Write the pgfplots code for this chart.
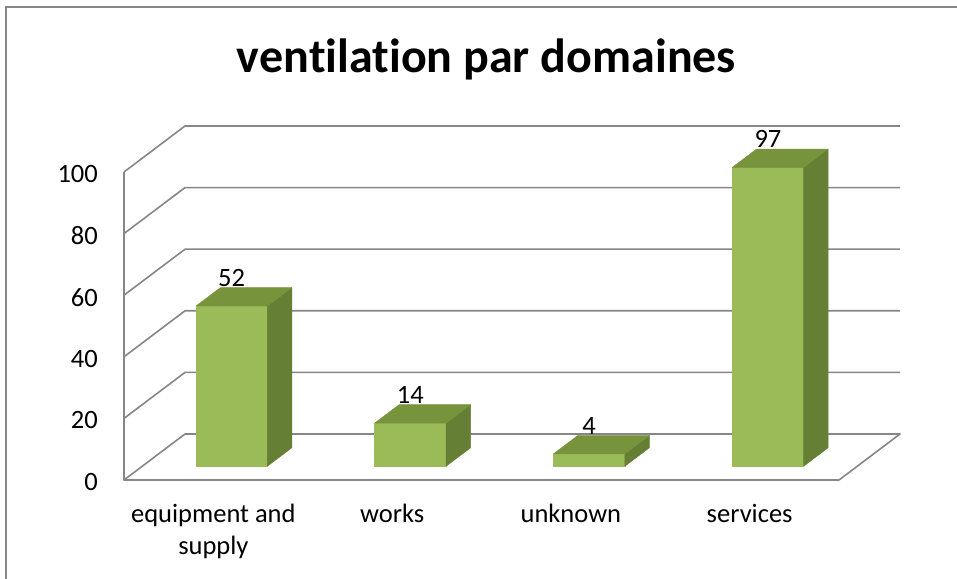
\documentclass[border=0pt]{standalone}
\usepackage{fontspec}
\setmainfont{Carlito}[RawFeature={-liga;-clig;-dlig;-calt}]
\usepackage{pgfplots}
\pgfplotsset{compat=1.18}
\usetikzlibrary{calc}
\definecolor{gridc}{RGB}{134,134,134}
\definecolor{front}{RGB}{155,187,89}
\definecolor{topc}{RGB}{119,147,60}
\definecolor{side}{RGB}{101,127,52}
\newcommand\lab{\fontsize{26.5}{32.6}\selectfont}
\begin{document}
\begin{tikzpicture}
\begin{axis}[
  x={(178.75pt,0pt)}, y={(61pt,46pt)}, z={(0pt,3.08pt)},
  xmin=0, xmax=4, ymin=0, ymax=1, zmin=0, zmax=100,
  hide axis, clip=false,
  every axis plot/.append style={line join=round},
  fr/.style={fill=front, draw=front, line width=0.4pt},
  sd/.style={fill=side, draw=side, line width=0.4pt},
  tp/.style={fill=topc, draw=topc, line width=0.4pt},
]
% floor
\addplot3[draw=gridc, line width=1.6pt, fill=none] coordinates {(0,0,0) (4,0,0) (4,1,0) (0,1,0)} -- cycle;
% left wall edge
\addplot3[draw=gridc, line width=1.6pt] coordinates {(0,0,0) (0,0,100)};
% gridlines (left wall + back wall)
\addplot3[draw=gridc, line width=1.6pt] coordinates {(0,0,20) (0,1,20) (4,1,20)};
\addplot3[draw=gridc, line width=1.6pt] coordinates {(0,0,40) (0,1,40) (4,1,40)};
\addplot3[draw=gridc, line width=1.6pt] coordinates {(0,0,60) (0,1,60) (4,1,60)};
\addplot3[draw=gridc, line width=1.6pt] coordinates {(0,0,80) (0,1,80) (4,1,80)};
\addplot3[draw=gridc, line width=1.6pt] coordinates {(0,0,100) (0,1,100) (4,1,100)};
% bar 1: equipment and supply = 52
\addplot3[fr] coordinates {(0.3,0.3,0) (0.7,0.3,0) (0.7,0.3,52) (0.3,0.3,52)} -- cycle;
\addplot3[sd] coordinates {(0.7,0.3,0) (0.7,0.7,0) (0.7,0.7,52) (0.7,0.3,52)} -- cycle;
\addplot3[tp] coordinates {(0.3,0.3,52) (0.7,0.3,52) (0.7,0.7,52) (0.3,0.7,52)} -- cycle;
% bar 2: works = 14
\addplot3[fr] coordinates {(1.3,0.3,0) (1.7,0.3,0) (1.7,0.3,14) (1.3,0.3,14)} -- cycle;
\addplot3[sd] coordinates {(1.7,0.3,0) (1.7,0.7,0) (1.7,0.7,14) (1.7,0.3,14)} -- cycle;
\addplot3[tp] coordinates {(1.3,0.3,14) (1.7,0.3,14) (1.7,0.7,14) (1.3,0.7,14)} -- cycle;
% bar 3: unknown = 4
\addplot3[fr] coordinates {(2.3,0.3,0) (2.7,0.3,0) (2.7,0.3,4) (2.3,0.3,4)} -- cycle;
\addplot3[sd] coordinates {(2.7,0.3,0) (2.7,0.7,0) (2.7,0.7,4) (2.7,0.3,4)} -- cycle;
\addplot3[tp] coordinates {(2.3,0.3,4) (2.7,0.3,4) (2.7,0.7,4) (2.3,0.7,4)} -- cycle;
% bar 4: services = 97
\addplot3[fr] coordinates {(3.3,0.3,0) (3.7,0.3,0) (3.7,0.3,97) (3.3,0.3,97)} -- cycle;
\addplot3[sd] coordinates {(3.7,0.3,0) (3.7,0.7,0) (3.7,0.7,97) (3.7,0.3,97)} -- cycle;
\addplot3[tp] coordinates {(3.3,0.3,97) (3.7,0.3,97) (3.7,0.7,97) (3.3,0.7,97)} -- cycle;
% tick labels
\foreach \v in {0,20,40,60,80,100}{
  \edef\tmp{\noexpand\node[anchor=east, font=\noexpand\lab, inner sep=0pt, xshift=-26pt, yshift=-2pt] at (axis cs:0,0,\v) {\v};}\tmp
}
% data labels
\node[anchor=base, font=\lab, inner sep=0pt, yshift=19.5pt] at (axis cs:0.5,0.3,52) {52};
\node[anchor=base, font=\lab, inner sep=0pt, yshift=19.5pt] at (axis cs:1.5,0.3,14) {14};
\node[anchor=base, font=\lab, inner sep=0pt, yshift=19.5pt] at (axis cs:2.5,0.3,4) {4};
\node[anchor=base, font=\lab, inner sep=0pt, yshift=19.5pt] at (axis cs:3.5,0.3,97) {97};
% category labels
\node[anchor=base, font=\lab, inner sep=0pt, align=center, yshift=-74.6pt] at (axis cs:0.5,0,0) {equipment and\\supply};
\node[anchor=base, font=\lab, inner sep=0pt, yshift=-42pt] at (axis cs:1.5,0,0) {works};
\node[anchor=base, font=\lab, inner sep=0pt, yshift=-42pt] at (axis cs:2.5,0,0) {unknown};
\node[anchor=base, font=\lab, inner sep=0pt, yshift=-42pt] at (axis cs:3.5,0,0) {services};
\coordinate (O) at (axis cs:0,0,0);
\end{axis}
\node[anchor=base, inner sep=0pt, font=\fontsize{48}{58}\selectfont\bfseries] at ($(O)+(362.4pt,407.3pt)$) {ven\kern0pt tilation par domaines};
\pgfresetboundingbox
\path[use as bounding box] ($(O)+(-124pt,-98pt)$) rectangle ($(O)+(833pt,480pt)$);
\draw[gridc, line width=1.6pt] ($(O)+(-118pt,-150pt)$) rectangle ($(O)+(900pt,473pt)$);
\end{tikzpicture}
\end{document}
